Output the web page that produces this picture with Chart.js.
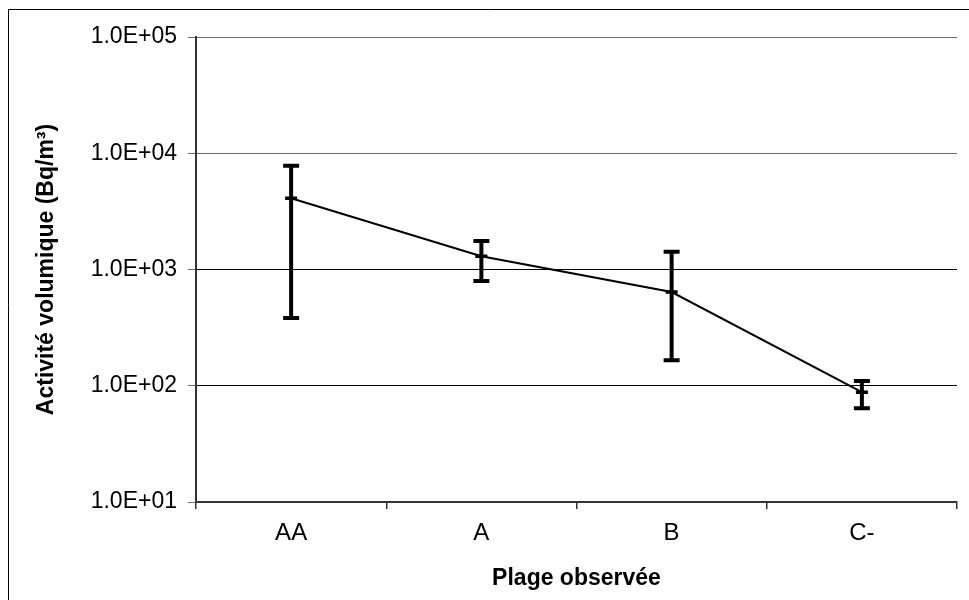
<!DOCTYPE html>
<html>
<head>
<meta charset="utf-8">
<script src="https://cdn.jsdelivr.net/npm/chart.js@4/dist/chart.umd.min.js"></script>
<style>
  html, body { margin: 0; padding: 0; background: #fff; }
  #wrap { width: 969px; height: 600px; position: relative; }
</style>
</head>
<body>
<div id="wrap"><canvas id="chart" width="969" height="600"></canvas></div>
<script>
// Observed range categories and measured volumetric activity (Bq/m3)
const categories = ['AA', 'A', 'B', 'C-'];
const meanValues = [4100, 1300, 640, 88];
const upperValues = [7800, 1760, 1420, 110];
const lowerValues = [383, 796, 166, 64];
const yTickValues = [10, 100, 1000, 10000, 100000];

// Excel-like scientific labels: 1.0E+03
function sciLabel(v) {
  const exp = Math.round(Math.log10(v));
  const mant = v / Math.pow(10, exp);
  const sign = exp < 0 ? '-' : '+';
  const e = String(Math.abs(exp)).padStart(2, '0');
  return mant.toFixed(1) + 'E' + sign + e;
}

// Vertical error bars with caps, positioned through the chart scales
const errorBars = {
  id: 'errorBars',
  afterDatasetsDraw(chart) {
    const { ctx, scales: { x, y } } = chart;
    ctx.save();
    ctx.strokeStyle = '#000';
    ctx.lineWidth = 4;
    ctx.lineCap = 'butt';
    categories.forEach((c, i) => {
      const px = x.getPixelForValue(i);
      const top = y.getPixelForValue(upperValues[i]);
      const bot = y.getPixelForValue(lowerValues[i]);
      ctx.beginPath();
      ctx.moveTo(px, top);
      ctx.lineTo(px, bot);
      ctx.moveTo(px - 8, top);
      ctx.lineTo(px + 8, top);
      ctx.moveTo(px - 8, bot);
      ctx.lineTo(px + 8, bot);
      ctx.stroke();
    });
    ctx.restore();
  }
};

// Outer chart frame (left and top edges)
const outerFrame = {
  id: 'outerFrame',
  afterDraw(chart) {
    const { ctx } = chart;
    ctx.save();
    ctx.strokeStyle = '#000';
    ctx.lineWidth = 1;
    ctx.beginPath();
    ctx.moveTo(8.5, 600);
    ctx.lineTo(8.5, 9.5);
    ctx.lineTo(969, 9.5);
    ctx.stroke();
    ctx.restore();
  }
};

new Chart(document.getElementById('chart'), {
  type: 'line',
  data: {
    labels: categories,
    datasets: [{
      data: meanValues,
      borderColor: '#000',
      borderWidth: 2,
      tension: 0,
      pointStyle: 'line',
      pointRadius: 6,
      pointBorderWidth: 3.5,
      pointBorderColor: '#000',
      pointBackgroundColor: '#000'
    }]
  },
  options: {
    responsive: false,
    animation: false,
    devicePixelRatio: 1,
    layout: { padding: { left: 0, top: 37, right: 12, bottom: 0 } },
    plugins: { legend: { display: false }, tooltip: { enabled: false } },
    scales: {
      x: {
        type: 'category',
        offset: true,
        afterFit(s) { s.height = 98; },
        grid: {
          offset: true,
          drawOnChartArea: true,
          color: (ctx) => ctx.index === categories.length ? '#8c8c8c' : 'rgba(0,0,0,0)',
          tickColor: '#333',
          tickLength: 7,
          lineWidth: 1.5
        },
        border: { color: '#333', width: 2 },
        ticks: {
          color: '#000',
          padding: 10,
          font: { family: '"Liberation Sans", Arial, sans-serif', size: 24 }
        },
        title: {
          display: true,
          text: 'Plage observée',
          color: '#000',
          padding: { top: 0, bottom: 8 },
          font: { family: '"Liberation Sans", Arial, sans-serif', size: 23, weight: 'bold' }
        }
      },
      y: {
        type: 'logarithmic',
        min: 10,
        max: 100000,
        afterFit(s) { s.width = 196; },
        afterBuildTicks(s) { s.ticks = yTickValues.map(v => ({ value: v })); },
        grid: {
          color: (ctx) => ctx.tick && ctx.tick.value >= 10000 ? '#6e6e6e' : '#000',
          tickColor: '#6e6e6e',
          tickLength: 8,
          lineWidth: 1
        },
        border: { color: '#333', width: 2 },
        ticks: {
          color: '#000',
          padding: 11,
          autoSkip: false,
          font: { family: '"Liberation Sans", Arial, sans-serif', size: 23 },
          callback: (v) => sciLabel(v)
        },
        title: {
          display: true,
          text: 'Activité volumique (Bq/m³)',
          color: '#000',
          padding: { top: 33, bottom: 0 },
          font: { family: '"Liberation Sans", Arial, sans-serif', size: 23, weight: 'bold' }
        }
      }
    }
  },
  plugins: [errorBars, outerFrame]
});
</script>
</body>
</html>
